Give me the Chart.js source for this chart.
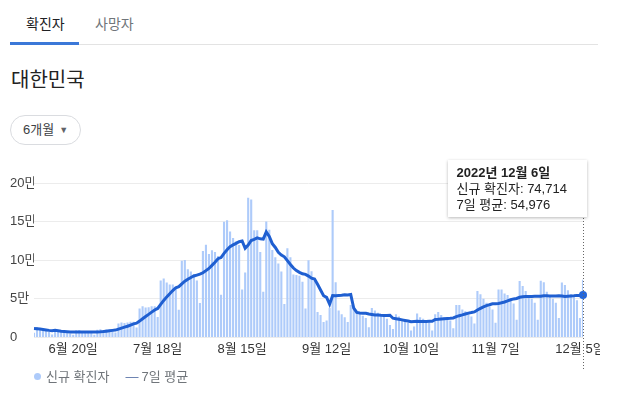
<!DOCTYPE html>
<html lang="ko">
<head>
<meta charset="utf-8">
<script src="https://cdn.jsdelivr.net/npm/chart.js@4.4.0/dist/chart.umd.min.js"></script>
<style>
  body {
    margin: 0;
    width: 619px;
    height: 395px;
    background: #fff;
    position: relative;
    overflow: hidden;
    font-family: Arial, "Liberation Sans", "Noto Sans CJK KR", sans-serif;
  }
  .abs { position: absolute; white-space: nowrap; }
  .tab { top: 13px; font-size: 14px; }
  #tabOn { left: 26px; color: #202124; }
  #tabOff { left: 95px; color: #70757a; }
  #tabLine { left: 10px; top: 42px; width: 69px; height: 3px; background: #3b78d8; }
  #sep { left: 79px; top: 44px; width: 519px; height: 1px; background: #e3e3e3; }
  #title { left: 11px; top: 64px; font-size: 20px; color: #222; }
  #range {
    left: 10px; top: 115px; width: 71px; height: 30px;
    border: 1px solid #dadce0; border-radius: 16px; box-sizing: border-box;
    font-size: 13px; color: #3c4043; line-height: 28px; padding-left: 12px;
  }
  #range span { font-size: 9px; color: #5f6368; margin-left: 5px; position: relative; top: -1px; }
  #chartBox { left: 0; top: 160px; }
  #tip {
    top: 160px; width: 139px; height: 57px; background: #fff;
    box-shadow: 0 1px 3px rgba(0,0,0,0.28); box-sizing: border-box;
    padding: 5px 0 0 9px; font-size: 13px; line-height: 16px; color: #222;
  }
  #tip b { font-weight: bold; }
  #legend { left: 34px; top: 366px; font-size: 13px; color: #70757a; }
  #legend .dot {
    display: inline-block; width: 7px; height: 7px; border-radius: 50%;
    background: #aecbfa; margin-right: 5px; position: relative; top: -1px;
  }
  #legend .dash { margin-left: 16px; margin-right: 3px; color: #5b74a8; }
</style>
</head>
<body>
<div class="abs tab" id="tabOn">확진자</div>
<div class="abs tab" id="tabOff">사망자</div>
<div class="abs" id="tabLine"></div>
<div class="abs" id="sep"></div>
<div class="abs" id="title">대한민국</div>
<div class="abs" id="range">6개월<span>▼</span></div>
<div class="abs" id="chartBox"><canvas id="covidChart" width="600" height="212"></canvas></div>
<div class="abs" id="tip">
  <b>2022년 12월 6일</b><br>
  신규 확진자: 74,714<br>
  7일 평균: 54,976
</div>
<div class="abs" id="legend"><span class="dot"></span>신규 확진자<span class="dash">—</span>7일 평균</div>

<script>
// -------------------- DATA --------------------
// daily new cases, 2022-06-07 .. 2022-12-06
const casesJun = [6171, 13358, 12155, 9314, 8441, 7382, 3823, 9434, 9437, 7994, 7198, 6068,
  5022, 3530, 9305, 9591, 7497, 7224, 6238, 6052, 3423, 9896, 10463, 9595];
const casesJul = [10715, 10059, 9528, 6253, 18147, 19371, 18511, 19323, 20286, 20410, 12693,
  37360, 40266, 38882, 39196, 40342, 40248, 26299, 73582, 76402, 71170, 68632, 68551, 65433,
  35883, 99327, 100285, 88384, 85320, 82002, 73589];
const casesAug = [44689, 111789, 119922, 107894, 112901, 110666, 105507, 55292, 149897, 151792,
  137241, 128714, 124592, 119603, 62078, 84128, 180803, 178574, 138812, 138816, 110700, 59046,
  150267, 139339, 113371, 103961, 95595, 85295, 43142, 115395, 103961];
const casesSep = [81573, 80896, 79719, 72144, 37597, 99837, 85540, 73202, 33000, 29000, 20000,
  22000, 38000, 165000, 71444, 35000, 30000, 26000, 20000, 42000, 40000, 33000, 31000, 28000,
  25000, 13000, 38000, 35000, 32000, 29000];
const casesOct = [27000, 24000, 16000, 11000, 30000, 27000, 24000, 22000, 19000, 9000, 14000,
  31000, 26000, 24000, 22000, 20000, 9000, 30000, 33000, 29000, 26000, 24000, 22000, 12000,
  42000, 42000, 36000, 34000, 32000, 27000, 18000];
const casesNov = [60000, 56000, 50000, 45000, 40000, 36000, 19000, 62000, 62000, 57000, 55000,
  50000, 44000, 23000, 73000, 66600, 60000, 55000, 50000, 45000, 23000, 73500, 71500, 59000,
  54000, 50000, 45000, 25000, 71000, 68000];
const casesDec = [61000, 56000, 52000, 48000, 25000, 74714];

// 7-day average
const avgJun = [11500, 11200, 10800, 10300, 9700, 9100, 8663, 9130, 8569, 7975, 7673, 7334,
  6997, 6955, 6936, 6958, 6887, 6891, 6915, 7062, 7047, 7132, 7256, 7556];
const avgJul = [8055, 8600, 9097, 9501, 10680, 11953, 13226, 14456, 15917, 17472, 18392, 21136,
  24121, 27031, 29870, 32736, 35570, 37513, 42688, 47850, 52463, 56668, 60698, 64296, 65665,
  69343, 72754, 75214, 77598, 79519, 80684];
const avgAug = [81942, 83723, 86528, 89315, 93255, 97350, 101910, 103424, 108868, 113421,
  117614, 119873, 121862, 123876, 124845, 115450, 119594, 125499, 126941, 128973, 127702,
  127268, 136717, 130793, 121479, 116500, 110326, 106696, 104424, 99443, 94389];
const avgSep = [89846, 86551, 84283, 82404, 81612, 79390, 76758, 75562, 68720, 61474, 54025,
  51797, 42963, 54315, 54063, 54349, 54492, 55349, 55063, 55635, 37778, 32286, 31714, 31429,
  31286, 30286, 29714, 29000, 28857, 28571];
const avgOct = [28429, 28286, 28714, 24857, 24143, 23429, 22714, 22000, 21286, 20286, 20714,
  20857, 20714, 20714, 20714, 20857, 20857, 23143, 23429, 23857, 24143, 24429, 24714, 25143,
  26857, 28143, 29143, 30286, 31429, 32143, 33000];
const avgNov = [35571, 37571, 39571, 41143, 42286, 43571, 43714, 44000, 44857, 45857, 47286,
  48714, 49857, 50429, 52000, 52657, 53086, 53086, 53086, 53229, 53229, 53300, 54000, 53857,
  53714, 53714, 53714, 54000, 53643, 53143];
const avgDec = [53429, 53714, 54000, 54429, 54429, 54976];

const tickLabels = ["6월 20일", "7월 18일", "8월 15일", "9월 12일", "10월 10일", "11월 7일", "12월 5일"];
const yTicks = [0, 50000, 100000, 150000, 200000];

const cases = [].concat(casesJun, casesJul, casesAug, casesSep, casesOct, casesNov, casesDec);
const avg = [].concat(avgJun, avgJul, avgAug, avgSep, avgOct, avgNov, avgDec);

// day labels 6월 7일 .. 12월 6일
const labels = [];
const d = new Date(2022, 5, 7);
for (let i = 0; i < cases.length; i++) {
  labels.push((d.getMonth() + 1) + "월 " + d.getDate() + "일");
  d.setDate(d.getDate() + 1);
}
const last = cases.length - 1;

// -------------------- CHART --------------------
Chart.defaults.font.family = 'Arial, "Liberation Sans", "Noto Sans CJK KR", sans-serif';
Chart.defaults.font.size = 13;

const hoverLine = {
  id: "hoverLine",
  afterDatasetsDraw(chart) {
    const c = chart.ctx;
    const x = Math.round(chart.scales.x.getPixelForValue(last)) + 0.5;
    c.save();
    c.strokeStyle = "#666";
    c.lineWidth = 1;
    c.setLineDash([1, 2]);
    c.beginPath();
    c.moveTo(x, chart.chartArea.top - 10);
    c.lineTo(x, chart.height - 3);
    c.stroke();
    c.restore();
    document.getElementById("tip").style.left = (x + 3 - 139) + "px";
  }
};

new Chart(document.getElementById("covidChart"), {
  type: "bar",
  data: {
    labels: labels,
    datasets: [
      {
        type: "line",
        label: "7일 평균",
        data: avg,
        borderColor: "#1f5fd1",
        borderWidth: 3,
        tension: 0,
        pointRadius: (ctx) => ctx.dataIndex === last ? 4 : 0,
        pointBackgroundColor: "#2466da",
        pointBorderWidth: 0,
        order: 0
      },
      {
        label: "신규 확진자",
        data: cases,
        backgroundColor: "#aecbfa",
        barPercentage: 0.7,
        categoryPercentage: 1,
        order: 1
      }
    ]
  },
  options: {
    responsive: false,
    animation: false,
    layout: { padding: { left: 10, right: 17, top: 23, bottom: 11 } },
    plugins: { legend: { display: false }, tooltip: { enabled: false } },
    scales: {
      x: {
        offset: false,
        grid: { display: false, drawTicks: false },
        border: { display: false },
        ticks: {
          autoSkip: false,
          maxRotation: 0,
          padding: 4,
          color: "#333",
          callback: function (v, i) {
            const l = this.getLabelForValue(v);
            return tickLabels.includes(l) ? l : "";
          }
        }
      },
      y: {
        min: 0,
        max: 200000,
        afterFit: (s) => { s.width = 24; },
        afterBuildTicks: (s) => { s.ticks = yTicks.map(v => ({ value: v })); },
        grid: { color: "#ececec", drawTicks: false },
        border: { display: false },
        ticks: {
          crossAlign: "far",
          padding: 0,
          color: "#444",
          callback: (v) => v === 0 ? "0" : (v / 10000) + "만"
        }
      }
    }
  },
  plugins: [hoverLine]
});
</script>
</body>
</html>
